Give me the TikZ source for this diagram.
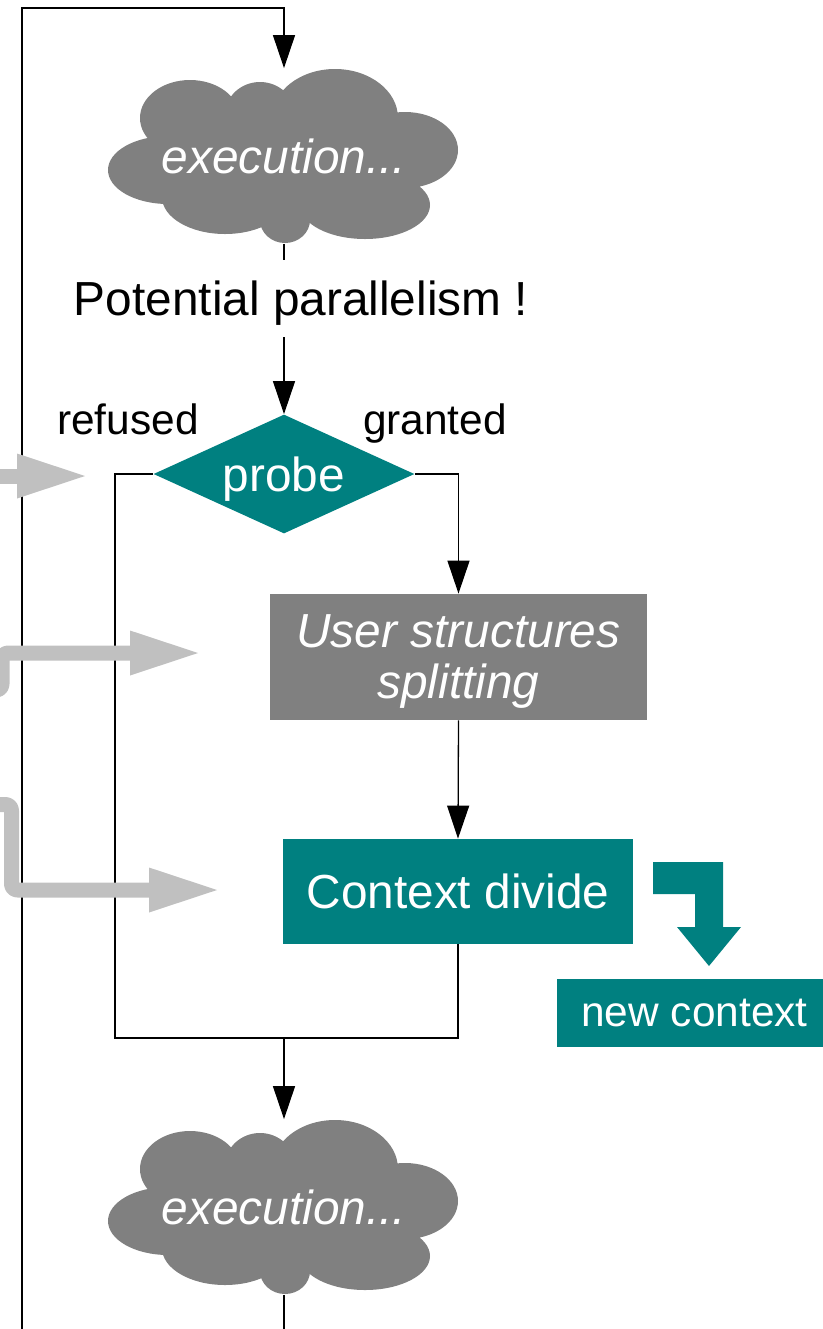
\documentclass[tikz,border=0pt]{standalone}
\usepackage{fontspec}
\setmainfont{Liberation Sans}
\usetikzlibrary{arrows.meta,shapes.geometric}
\definecolor{flowteal}{HTML}{008080}
\definecolor{flowgray}{HTML}{808080}
\definecolor{flowlight}{HTML}{C0C0C0}

\begin{document}
\begin{tikzpicture}[x=0.5pt,y=-0.5pt,
  wire/.style={line width=0.65pt, black},
  arr/.style={wire, -{Triangle[length=16.5pt,width=11pt]}},
  feed/.style={line width=7.5pt, flowlight, line join=round,
    -{Triangle[length=34pt,width=22.5pt,line width=0pt]}},
  bigtext/.style={font=\fontsize{23.9pt}{27pt}\selectfont},
  smalltext/.style={font=\fontsize{21.2pt}{25pt}\selectfont},
  box/.style={rectangle, inner sep=0pt, text=white, bigtext, align=center},
  blob/.pic={
    \fill[flowgray]
      (-94,-38) ellipse [x radius=25pt,   y radius=19pt]
      (-24,-41) ellipse [x radius=17.5pt, y radius=16.5pt]
      (51,-38)  ellipse [x radius=31.5pt, y radius=24.5pt]
      (121,-6)  ellipse [x radius=26.5pt, y radius=19pt]
      (81,49)   ellipse [x radius=32.5pt, y radius=17pt]
      (1,64)    ellipse [x radius=12.5pt, y radius=11.5pt]
      (-59,41)  ellipse [x radius=31.5pt, y radius=18.5pt]
      (-116,14) ellipse [x radius=30pt,   y radius=17pt]
      (1,4)     ellipse [x radius=55pt,   y radius=30pt];
  }
]
\useasboundingbox (0,0) rectangle (823,1329);

% execution clouds
\pic at (284,156) {blob};
\node[box, minimum width=175pt, minimum height=87.5pt, font=\fontsize{23.9pt}{27pt}\selectfont\itshape]
  (exec1) at (284,156) {execution...};
\pic at (284,1207) {blob};
\node[box, minimum width=175pt, minimum height=87.5pt, font=\fontsize{23.9pt}{27pt}\selectfont\itshape]
  (exec2) at (284,1207) {execution...};

% message and decision
\node[bigtext, inner sep=0pt, minimum height=38.5pt, text depth=0pt] (pot) at (301,298.5) {Potential parallelism !};
\node[diamond, aspect=2.2, fill=flowteal, text=white, bigtext, inner sep=0pt, text depth=0pt,
  minimum width=130.5pt, minimum height=59.5pt] (probe) at (284,474) {probe};
\node[smalltext, inner sep=0pt, anchor=base] (lref) at (128,434) {refused};
\node[smalltext, inner sep=0pt, anchor=base] (lgr) at (435,434) {granted};

% process boxes
\node[box, fill=flowgray, font=\fontsize{23.9pt}{25.5pt}\selectfont\itshape, text depth=0pt,
  minimum width=188.5pt, minimum height=63pt] (user) at (458.5,657)
  {User structures\\splitting};
\node[box, fill=flowteal, minimum width=175pt, minimum height=52.5pt]
  (ctx) at (458,891.5) {Context divide};
\node[box, fill=flowteal, smalltext, minimum width=137.5pt, minimum height=34pt]
  (newctx) at (694.5,1013) {new context};

% bent block arrow towards the new context
\fill[flowteal] (653,862) -- (723,862) -- (723,927) -- (741,927) -- (709,966)
  -- (677,927) -- (695,927) -- (695,894) -- (653,894) -- cycle;

% control flow
\coordinate (loopin) at (22,1340);
\coordinate (looptop) at (22,8);
\coordinate (loopout) at (284,1340);
\coordinate (rj) at (115,1038);
\coordinate (merge) at (284,1038);

\draw[arr] (loopin) -- (looptop) -| (exec1.north);
\draw[wire] (exec1.south) -- (exec1.south |- pot.north);
\draw[arr] (pot.south -| probe.north) -- (probe.north);
\draw[arr] (probe.east) -| (user.north);
\draw[arr] (user.south) -- (ctx.north);
\draw[wire] (probe.west) -| (rj) -- (merge);
\draw[wire] (ctx.south) |- (merge);
\draw[arr] (merge) -- (exec2.north);
\draw[wire] (exec2.south) -- (loopout);

% incoming feeds from the left, laid over the flow lines
\coordinate (f1s) at (-20,476);
\coordinate (f1e) at (85,476);
\draw[feed] (f1s) -- (f1e);

\coordinate (f2s) at (-40,690);
\coordinate (f2a) at (2,690);
\coordinate (f2b) at (2,653);
\coordinate (f2e) at (198,653);
\draw[feed, rounded corners=3pt] (f2s) -- (f2a) -- (f2b) -- (f2e);

\coordinate (f3s) at (-40,804.5);
\coordinate (f3a) at (11.5,804.5);
\coordinate (f3b) at (11.5,890);
\coordinate (f3e) at (217,890);
\draw[feed, rounded corners=3pt] (f3s) -- (f3a) -- (f3b) -- (f3e);
\end{tikzpicture}
\end{document}
